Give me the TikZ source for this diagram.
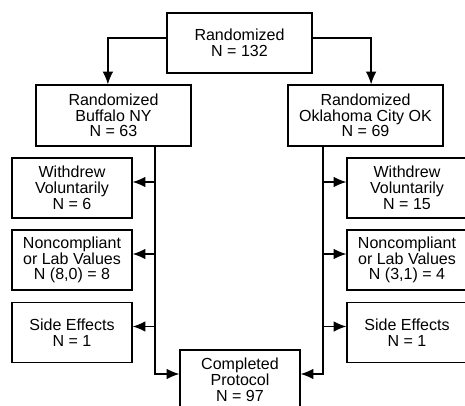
\documentclass[tikz,border=0pt]{standalone}
\usepackage{fontspec}
\setmainfont{Liberation Sans}
\usetikzlibrary{arrows.meta}
\tikzstyle{box}=[draw,line width=0.9pt,align=center,inner sep=2pt,font=\fontsize{11.4}{11.2}\selectfont]
\tikzstyle{site}=[box,minimum width=3.875cm,minimum height=1.525cm]
\tikzstyle{drop}=[box,minimum width=3cm,minimum height=1.5cm]
\tikzstyle{edge}=[draw,line width=0.9pt,-{Latex[length=9pt,width=7.5pt]}]

\begin{document}
\begin{tikzpicture}[x=0.025cm,y=-0.025cm]
        \useasboundingbox (0,0) rectangle (465,406);
        \node[box,minimum width=3.625cm,minimum height=1.5cm] (rand) at (239.5,43) {Randomized\\N = 132};
        \node[site] (buf) at (113.5,115.5) {Randomized\\Buffalo NY\\N = 63};
        \node[site] (okc) at (365.5,115.5) {Randomized\\Oklahoma City OK\\N = 69};
        % Buffalo drop-outs
        \node[drop] (wdl) at (72,188) {Withdrew\\Voluntarily\\N = 6};
        \node[drop] (ncl) at (72,260) {Noncompliant\\or Lab Values\\N (8,0) = 8};
        \node[drop] (sel) at (72,332.5) {Side Effects\\N = 1};
        % Oklahoma City drop-outs
        \node[drop] (wdr) at (407,188) {Withdrew\\Voluntarily\\N = 15};
        \node[drop] (ncr) at (407,260) {Noncompliant\\or Lab Values\\N (3,1) = 4};
        \node[drop] (ser) at (407,332.5) {Side Effects\\N = 1};
        \node[drop] (comp) at (240,380) {Completed\\Protocol\\N = 97};
        \coordinate (lt) at ([xshift=1.04cm]buf.south);
        \coordinate (rt) at ([xshift=-1.06cm]okc.south);
        \draw[edge] ([yshift=0.125cm]rand.west) -| ([xshift=-0.14cm]buf.north);
        \draw[edge] ([yshift=0.125cm]rand.east) -| ([xshift=0.14cm]okc.north);
        \draw[edge] (lt) |- ([yshift=0.15cm]comp.west);
        \draw[edge] (rt) |- ([yshift=0.15cm]comp.east);
        \foreach \n in {wdl,ncl,sel} {
          \coordinate (\n-in) at ([yshift=0.15cm]\n.east);
          \draw[edge] (lt |- \n-in) -- (\n-in);
        }
        \foreach \n in {wdr,ncr,ser} {
          \coordinate (\n-in) at ([yshift=0.15cm]\n.west);
          \draw[edge] (rt |- \n-in) -- (\n-in);
        }
      \end{tikzpicture}
\end{document}
